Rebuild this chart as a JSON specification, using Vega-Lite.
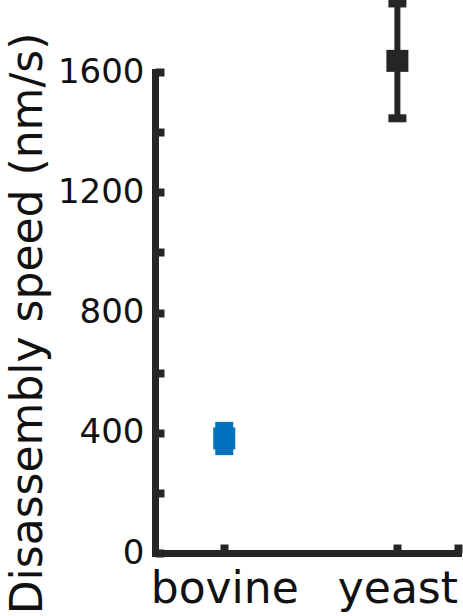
{
  "$schema": "https://vega.github.io/schema/vega-lite/v6.json",
  "width": 303,
  "height": 481,
  "autosize": "none",
  "padding": {"left": 155, "top": 72, "right": 5, "bottom": 63},
  "background": "white",
  "data": {
    "values": [
      {"species": "bovine", "x": 1, "speed": 381, "lower": 339, "upper": 423},
      {"species": "yeast", "x": 2, "speed": 1637, "lower": 1446, "upper": 1828}
    ]
  },
  "encoding": {
    "x": {
      "field": "x",
      "type": "quantitative",
      "scale": {"domain": [0.6, 2.35], "nice": false, "zero": false},
      "axis": {
        "title": null,
        "values": [1, 2, 2.35],
        "labelExpr": "datum.value == 1 ? 'bovine' : datum.value == 2 ? 'yeast' : ''",
        "labelFontSize": 44,
        "labelPadding": 23,
        "labelFlush": false,
        "labelOverlap": false
      }
    },
    "color": {
      "field": "species",
      "type": "nominal",
      "scale": {"domain": ["bovine", "yeast"], "range": ["#0072BD", "#262626"]},
      "legend": null
    }
  },
  "layer": [
    {
      "mark": {"type": "rule", "strokeWidth": 6},
      "encoding": {
        "y": {
          "field": "lower",
          "type": "quantitative",
          "scale": {"domain": [0, 1600], "nice": false},
          "axis": {
            "title": "Disassembly speed (nm/s)",
            "values": [0, 200, 400, 600, 800, 1000, 1200, 1400, 1600],
            "labelExpr": "datum.value % 400 == 0 ? datum.label : ''",
            "format": "d",
            "labelFontSize": 34,
            "labelPadding": 20,
            "titleFontSize": 44,
            "titlePadding": 7,
            "titleY": 251
          }
        },
        "y2": {"field": "upper"}
      }
    },
    {
      "mark": {"type": "tick", "orient": "horizontal", "size": 18, "thickness": 8, "opacity": 1},
      "encoding": {"y": {"field": "lower", "type": "quantitative"}}
    },
    {
      "mark": {"type": "tick", "orient": "horizontal", "size": 18, "thickness": 8, "opacity": 1},
      "encoding": {"y": {"field": "upper", "type": "quantitative"}}
    },
    {
      "mark": {"type": "point", "shape": "square", "filled": true, "size": 484, "opacity": 1, "strokeWidth": 0},
      "encoding": {"y": {"field": "speed", "type": "quantitative"}}
    }
  ],
  "config": {
    "view": {"stroke": null},
    "font": "DejaVu Sans",
    "axis": {
      "grid": false,
      "domainColor": "#262626",
      "domainWidth": 7,
      "domainCap": "square",
      "tickColor": "#262626",
      "tickSize": -9,
      "tickWidth": 8,
      "labelColor": "#111111",
      "labelFont": "DejaVu Sans",
      "titleColor": "#111111",
      "titleFont": "DejaVu Sans",
      "titleFontWeight": "normal"
    }
  }
}
